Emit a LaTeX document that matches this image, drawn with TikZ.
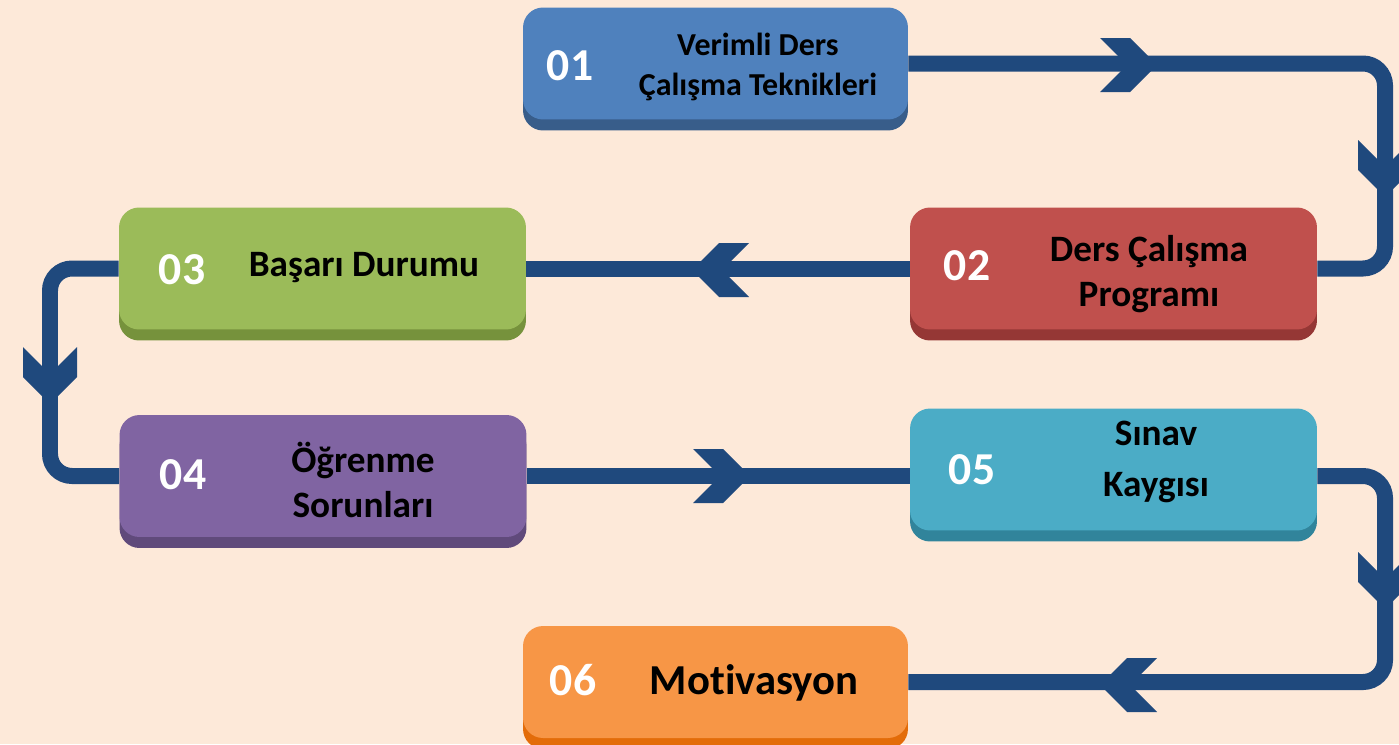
\documentclass[tikz,border=0pt]{standalone}
\usepackage{fontspec}
\setmainfont[Ligatures={NoCommon}]{Carlito}
\usetikzlibrary{shadows}
\definecolor{bgpeach}{HTML}{FDE9D9}
\definecolor{flowc}{HTML}{1F497D}
\definecolor{blueF}{HTML}{4F81BD}
\definecolor{blueS}{HTML}{385D8A}
\definecolor{redF}{HTML}{C0504D}
\definecolor{redS}{HTML}{953735}
\definecolor{greenF}{HTML}{9BBB59}
\definecolor{greenS}{HTML}{76923C}
\definecolor{purpleF}{HTML}{8064A2}
\definecolor{purpleS}{HTML}{604A7B}
\definecolor{aquaF}{HTML}{4BACC6}
\definecolor{aquaS}{HTML}{31849B}
\definecolor{orangeF}{HTML}{F79646}
\definecolor{orangeS}{HTML}{E36C09}
\def\chevron(#1)(#2){\fill[flowc, shift={(#1)}, rotate=#2] (-15,-27) -- (15,-27) -- (42,0) -- (15,27) -- (-15,27) -- (12,0) -- cycle;}
\tikzset{
	box/.style 2 args={fill=#1, rounded corners=0.4cm, inner sep=0pt, general shadow={fill=#2, shadow yshift=-0.22cm}},
	small/.style={minimum width=7.7cm, minimum height=2.24cm},
	large/.style={minimum width=8.14cm, minimum height=2.44cm},
	flow/.style={line width=0.32cm, color=flowc, rounded corners=0.44cm},
	num/.style={text=white, font=\fontsize{26}{30}\selectfont\bfseries},
	ttl/.style={font=\fontsize{21.2}{25.5}\selectfont\bfseries, align=center},
}

\begin{document}
\begin{tikzpicture}[x=0.02cm, y=-0.02cm]
		%%%%% START %%%%%
		
		\fill[bgpeach] (0,0) rectangle (1399,744);
		\useasboundingbox (0,0) rectangle (1399,744);
		
		\node[box={blueF}{blueS}, small] (b1) at (715.5,63.5) {};
		\node[box={redF}{redS}, large] (b2) at (1113.5,268.5) {};
		\node[box={greenF}{greenS}, large] (b3) at (322.5,268.5) {};
		\node[box={purpleF}{purpleS}, large] (b4) at (323,476) {};
		\node[box={aquaF}{aquaS}, large] (b5) at (1113.5,469.5) {};
		\node[box={orangeF}{orangeS}, small] (b6) at (715.5,682) {};
		
		\node[num] (n1) at (570,66) {01};
		\node[num] (n2) at (967,266) {02};
		\node[num] (n3) at (182,270) {03};
		\node[num] (n4) at (183,475) {04};
		\node[num] (n5) at (972,470) {05};
		\node[num] (n6) at (573,680) {06};
		
		\node[ttl, font=\fontsize{18.2}{22.5}\selectfont\bfseries] (t1) at (758,67) {Verimli Ders\\Çalışma Teknikleri};
		\node[ttl] (t2) at (1149,274) {Ders Çalışma\\Programı};
		\node[ttl] (t3) at (364,268) {Başarı Durumu};
		\node[ttl] (t4) at (363,480) {Öğrenme\\Sorunları};
		\node[ttl, font=\fontsize{21.2}{29}\selectfont\bfseries] (t5) at (1156,462) {Sınav\\Kaygısı};
		\node[ttl, font=\fontsize{24.3}{28}\selectfont\bfseries] (t6) at (754,683) {Motivasyon};
		
		\coordinate (rt) at (1385,0);
		\coordinate (lf) at (50,0);
		
		\draw[flow] (b1.east) -| (rt |- b2.east) -- (b2.east);
		\draw[flow] (b2.west) -- (b3.east);
		\draw[flow] (b3.west) -| (lf |- b4.west) -- (b4.west);
		\draw[flow] (b4.east) -- (b4.east -| b5.west);
		\draw[flow] (b5.east |- b4.east) -| (rt |- b6.east) -- (b6.east);
		
		\chevron(1115,65)(0)
		\chevron(1385,155)(-90)
		\chevron(734,270)(180)
		\chevron(50,362)(-90)
		\chevron(708,476)(0)
		\chevron(1385,567)(-90)
		\chevron(1142,685)(180)
		
		%%%%% END %%%%%
	\end{tikzpicture}
\end{document}
